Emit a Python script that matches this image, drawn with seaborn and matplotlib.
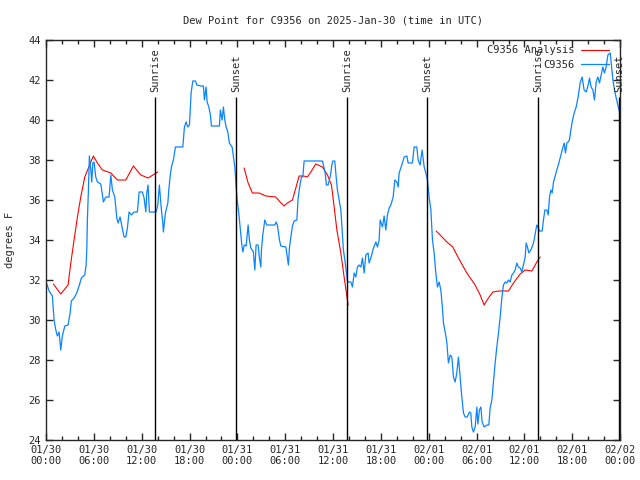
import pandas as pd
import numpy as np
import matplotlib
matplotlib.use("Agg")
import matplotlib.pyplot as plt
import matplotlib.dates as mdates
from matplotlib.lines import Line2D
import seaborn as sns

# observed dew point (hours after 2025-01-30 00:00 UTC, deg F)
obs_hours = [0.1, 0.38, 0.79, 1.0, 1.22, 1.42, 1.63, 1.84, 2.04, 2.35, 2.76, 3.01, 3.17, 3.51,
             3.85, 4.14, 4.43, 4.85, 5.02, 5.11, 5.18, 5.31, 5.43, 5.61, 5.73, 5.86, 6.02, 6.23,
             6.44, 6.86, 7.06, 7.19, 7.49, 7.9, 8.12, 8.32, 8.62, 8.87, 9.03, 9.28, 9.53, 9.78,
             10.0, 10.2, 10.41, 10.7, 11.04, 11.45, 11.67, 12.08, 12.29, 12.51, 12.63, 12.79,
             12.96, 13.8, 14.01, 14.21, 14.43, 14.64, 14.71, 14.97, 15.27, 15.39, 15.55, 15.72,
             15.97, 16.22, 17.15, 17.35, 17.56, 17.77, 17.98, 18.19, 18.4, 18.73, 18.9, 19.44,
             19.73, 19.86, 20.07, 20.2, 20.41, 20.61, 20.74, 21.74, 21.86, 22.08, 22.24, 22.42,
             22.58, 22.79, 22.99, 23.33, 23.5, 23.67, 23.83, 23.96, 24.17, 24.37, 24.55, 24.67,
             24.87, 25.09, 25.34, 25.5, 25.68, 26.0, 26.18, 26.34, 26.59, 26.76, 26.93, 27.01,
             27.18, 27.43, 27.68, 28.69, 28.85, 29.01, 29.27, 29.44, 30.07, 30.27, 30.39, 30.52,
             30.7, 30.9, 31.11, 31.45, 31.61, 31.86, 32.03, 32.2, 32.36, 34.66, 34.78, 35.0,
             35.16, 35.37, 35.59, 35.71, 35.84, 35.96, 36.21, 36.38, 36.54, 36.75, 36.97, 37.13,
             37.29, 37.47, 37.63, 37.79, 37.88, 38.22, 38.42, 38.64, 38.85, 39.05, 39.26, 39.48,
             39.68, 39.89, 40.1, 40.39, 40.51, 40.73, 41.06, 41.36, 41.56, 41.77, 41.9, 42.19,
             42.4, 42.61, 42.81, 43.03, 43.24, 43.53, 43.74, 43.99, 44.16, 44.28, 44.49, 44.69,
             44.91, 45.25, 45.41, 45.95, 46.16, 46.5, 46.66, 46.91, 47.16, 47.42, 47.63, 47.83,
             48.04, 48.26, 48.46, 48.67, 48.88, 49.08, 49.29, 49.51, 49.71, 49.84, 50.05, 50.26,
             50.46, 50.68, 50.89, 51.09, 51.3, 51.51, 51.72, 51.93, 52.14, 52.35, 52.56, 52.81,
             53.1, 53.27, 53.4, 53.6, 53.81, 54.03, 54.15, 54.35, 54.53, 54.69, 54.94, 55.28,
             55.53, 55.69, 55.91, 56.11, 56.32, 56.53, 56.74, 56.95, 57.16, 57.36, 57.58, 57.79,
             57.99, 58.2, 58.42, 58.62, 58.83, 59.04, 59.24, 59.46, 59.67, 59.87, 60.09, 60.21,
             60.37, 60.55, 60.8, 61.05, 61.21, 61.38, 61.55, 61.75, 61.88, 62.22, 62.38, 62.56,
             62.81, 62.97, 63.14, 63.31, 63.47, 63.64, 63.81, 64.06, 64.31, 64.56, 64.73, 64.98,
             65.14, 65.32, 65.48, 65.64, 65.82, 65.98, 66.23, 66.48, 66.73, 66.98, 67.23, 67.48,
             67.74, 67.99, 68.15, 68.36, 68.58, 68.78, 68.99, 69.2, 69.41, 69.62, 69.83, 70.03,
             70.24, 70.46, 70.75, 70.92, 71.09, 71.29, 71.5, 71.71, 71.92, 72.0]
obs_dewpt = [31.8, 31.45, 31.2, 30.0, 29.5, 29.2, 29.4, 28.5, 29.2, 29.7, 29.75, 30.35, 30.95, 31.1,
             31.35, 31.7, 32.1, 32.25, 32.75, 33.6, 35.0, 36.5, 38.2, 37.5, 36.9, 37.85, 37.9, 37.15,
             36.9, 36.8, 36.25, 35.9, 36.15, 36.15, 37.25, 36.5, 36.15, 35.1, 34.85, 35.15, 34.65, 34.15,
             34.15, 34.6, 35.4, 35.25, 35.4, 35.4, 36.4, 36.4, 36.1, 35.4, 36.35, 36.75,
             35.4, 35.4, 35.75, 36.75, 35.65, 34.85, 34.4, 35.35, 35.85, 36.5, 37.15, 37.65,
             38.0, 38.65, 38.65, 39.65, 39.9, 39.65, 39.75, 41.35, 41.95, 41.95, 41.75, 41.7,
             41.7, 41.0, 41.65, 40.9, 40.65, 40.25, 39.7, 39.7, 40.5, 40.0, 40.65, 40.0,
             39.65, 39.4, 38.85, 38.65, 38.15, 37.65, 36.75, 36.0, 35.35, 34.5, 33.75, 33.4,
             33.75, 33.7, 34.75, 34.0, 33.6, 33.4, 32.5, 33.75, 33.75, 33.1, 32.65, 33.5,
             34.25, 35.0, 34.75, 34.75, 34.9, 34.75, 34.0, 33.7, 33.65, 33.1, 32.75, 33.6,
             34.15, 34.7, 34.95, 35.0, 36.1, 36.8, 37.15, 37.15, 37.95, 37.95, 37.75, 37.35,
             36.75, 36.75, 37.1, 37.35, 37.75, 37.95, 37.95, 37.15, 36.5, 36.0, 35.5, 34.5,
             33.5, 33.0, 32.5, 32.0, 31.9, 31.9, 31.65, 32.35, 32.15, 32.65, 32.75, 32.65,
             33.1, 32.35, 33.25, 33.35, 32.85, 33.1, 33.6, 33.9, 33.65, 34.0, 35.0, 34.65,
             35.2, 34.5, 35.25, 35.6, 35.75, 36.15, 37.0, 36.9, 36.65, 37.35, 37.6, 37.85,
             38.15, 38.2, 37.85, 37.85, 38.65, 38.65, 38.0, 37.75, 38.5, 37.65, 37.35, 37.0,
             36.15, 35.5, 34.0, 33.35, 32.35, 31.65, 31.9, 31.5, 30.6, 29.85, 29.4, 28.9,
             27.85, 28.25, 28.15, 27.15, 26.9, 27.35, 28.15, 27.15, 26.15, 25.35, 25.15, 25.15,
             25.4, 25.35, 24.65, 24.4, 24.65, 25.65, 24.8, 25.5, 25.65, 24.9, 24.65, 24.75,
             24.75, 25.6, 26.0, 26.9, 27.85, 28.65, 29.35, 30.15, 31.1, 31.75, 31.9, 31.85,
             32.0, 31.9, 32.25, 32.35, 32.5, 32.85, 32.65, 32.6, 32.4, 32.75, 33.15, 33.85,
             33.65, 33.35, 33.5, 33.75, 34.0, 34.4, 34.75, 34.6, 34.45, 34.45, 35.0, 35.5,
             35.5, 35.25, 36.15, 36.5, 36.35, 36.9, 37.15, 37.5, 37.85, 38.25, 38.5, 38.85,
             38.35, 38.85, 38.9, 39.0, 39.5, 39.9, 40.35, 40.65, 41.15, 41.85, 42.15, 41.5,
             41.4, 41.75, 42.1, 41.65, 41.5, 41.0, 41.9, 42.15, 41.85, 42.25, 42.65, 42.35,
             42.65, 43.25, 43.35, 42.65, 42.0, 41.5, 41.1, 40.75, 40.4, 40.35]

# analysis dew point, three separate runs
ana_hours = [0.92, 1.84, 2.76, 3.1, 3.51, 3.93, 4.35, 4.85, 5.36, 5.93, 6.44, 7.06, 8.12, 8.94,
             10.0, 10.95, 11.88, 12.79, 14.01,
             24.84, 25.34, 25.88, 26.72, 27.56, 28.81, 29.35, 29.85, 30.27, 30.9, 31.32, 31.74,
             32.28, 32.78, 33.2, 33.83, 34.66, 35.29, 35.79, 36.13, 36.47, 36.97, 37.38, 37.88,
             48.92, 49.42, 50.26, 51.01, 51.72, 52.77, 53.81, 54.44, 54.94, 55.48, 56.03, 56.74,
             57.99, 58.62, 59.46, 60.09, 60.93, 61.55, 61.97]
ana_dewpt = [31.8, 31.3, 31.75, 32.85, 34.0, 35.15, 36.15, 37.15, 37.65, 38.2, 37.85, 37.5, 37.35, 37.0,
             37.0, 37.7, 37.25, 37.1, 37.4,
             37.6, 36.85, 36.35, 36.35, 36.2, 36.15, 35.9, 35.7, 35.85, 36.0, 36.6, 37.2,
             37.2, 37.15, 37.4, 37.8, 37.65, 37.25, 36.75, 35.65, 34.5, 33.35, 32.15, 30.75,
             34.45, 34.25, 33.9, 33.65, 33.1, 32.35, 31.75, 31.25, 30.75, 31.1, 31.4, 31.45,
             31.45, 31.85, 32.3, 32.5, 32.45, 32.9, 33.15]
ana_run = [1] * 19 + [2] * 24 + [3] * 19

event_hours = [13.68, 23.84, 37.77, 47.8, 61.73, 71.87]
event_names = ["Sunrise", "Sunset", "Sunrise", "Sunset", "Sunrise", "Sunset"]

start = pd.Timestamp("2025-01-30 00:00")
obs = pd.DataFrame({"time": start + pd.to_timedelta(obs_hours, unit="h"), "dewpt": obs_dewpt})
ana = pd.DataFrame({"time": start + pd.to_timedelta(ana_hours, unit="h"), "dewpt": ana_dewpt,
                    "run": ana_run})

sns.set_style("ticks")
plt.rcParams["font.family"] = ["DejaVu Sans Mono"]
fs = 7.5
red, blue = "#ff0000", "#0a84ff"

fig = plt.figure(figsize=(6.4, 4.8), dpi=100)
ax = fig.add_axes([0.072, 0.0833, 0.897, 0.8334])

sns.lineplot(data=ana, x="time", y="dewpt", units="run", estimator=None, color=red,
             linewidth=0.8, ax=ax, legend=False)
sns.lineplot(data=obs, x="time", y="dewpt", color=blue, linewidth=0.9, ax=ax, legend=False)

for h, name in zip(event_hours, event_names):
    t = start + pd.Timedelta(hours=h)
    ax.vlines(t, 24, 41.15, color="black", linewidth=1)
    ax.text(t, 41.4, name, rotation=90, ha="center", va="bottom", fontsize=fs)

ax.set_xlim(start, start + pd.Timedelta(hours=72))
ax.set_ylim(24, 44)
ax.set_yticks(np.arange(24, 45, 2))
ax.xaxis.set_major_locator(mdates.HourLocator(byhour=[0, 6, 12, 18]))
ax.xaxis.set_minor_locator(mdates.HourLocator(byhour=range(0, 24, 2)))
ax.xaxis.set_major_formatter(mdates.DateFormatter("%m/%d\n%H:%M"))
ax.tick_params(axis="both", which="both", direction="in", top=True, right=True,
               labelsize=fs, width=1)
ax.tick_params(which="major", length=5)
ax.tick_params(which="minor", length=3)
for s in ax.spines.values():
    s.set_linewidth(1)

ax.set_xlabel("")
ax.set_ylabel("degrees F", fontsize=fs, labelpad=10)
ax.set_title("Dew Point for C9356 on 2025-Jan-30 (time in UTC)", fontsize=fs, pad=12)

handles = [Line2D([], [], color=red, linewidth=0.8), Line2D([], [], color=blue, linewidth=0.9)]
ax.legend(handles, ["C9356 Analysis", "C9356"], loc="upper right", bbox_to_anchor=(0.99, 1.0),
          frameon=False, markerfirst=False, fontsize=fs, handlelength=2.7,
          borderaxespad=0.1, labelspacing=0.45, handletextpad=0.6)

plt.savefig("out.png", dpi=100)
